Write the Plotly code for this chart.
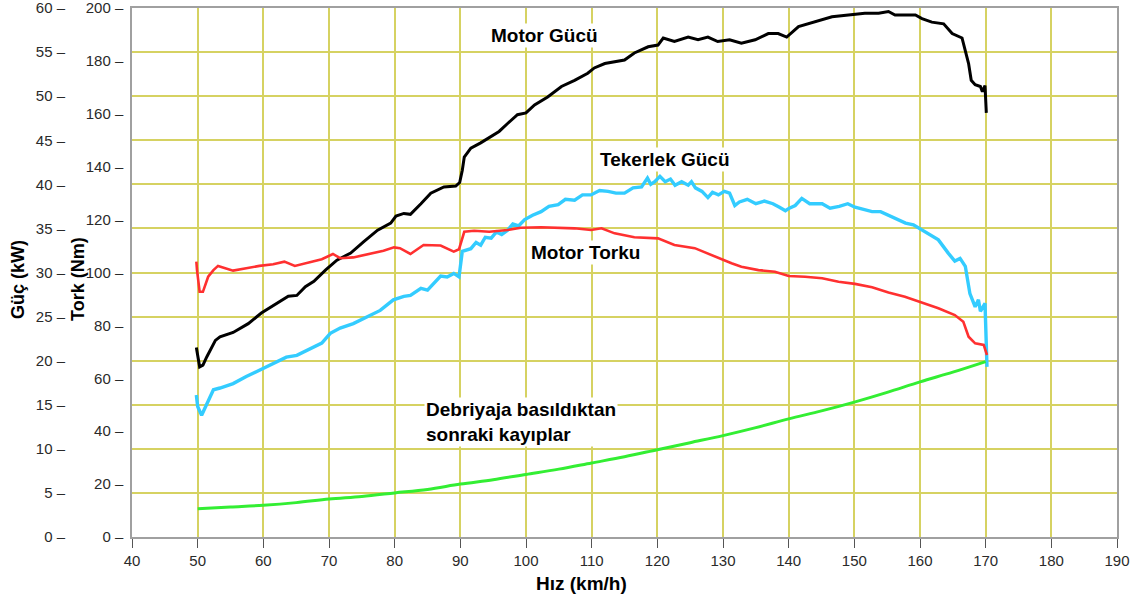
import plotly.graph_objects as go

# ---------------- data ----------------
motor_guc_hiz = [49.8, 50.3, 50.8, 51.4, 52.7, 53.4, 55.4, 57.7, 59.7, 62.0, 63.8, 65.1, 66.4, 67.7,
                 69.5, 71.2, 73.3, 75.3, 77.4, 79.4, 80.2, 81.4, 82.4, 84.0, 85.5, 87.5, 89.3, 89.9,
                 90.3, 90.6, 91.6, 93.1, 94.1, 95.9, 97.2, 98.7, 100.0, 101.3, 103.3, 105.4, 107.4,
                 109.4, 110.4, 112.0, 115.0, 116.5, 118.6, 120.1, 120.9, 122.6, 124.7, 126.2, 127.7,
                 129.2, 131.0, 132.8, 134.9, 136.9, 138.4, 139.7, 141.5, 144.0, 146.6, 149.1, 151.6,
                 153.7, 155.2, 156.2, 159.3, 160.3, 161.8, 163.6, 164.9, 166.4, 166.9, 167.4, 167.8,
                 168.4, 169.2, 169.5, 169.9, 170.0, 170.1]
motor_guc_kw = [21.5, 19.3, 19.5, 20.45, 22.3, 22.7, 23.2, 24.2, 25.4, 26.5, 27.3, 27.4, 28.4, 29.0,
                30.3, 31.4, 32.2, 33.5, 34.8, 35.6, 36.4, 36.7, 36.6, 37.8, 39.0, 39.7, 39.8, 40.2,
                41.6, 43.1, 44.1, 44.7, 45.2, 46.0, 46.9, 47.9, 48.1, 49.0, 49.9, 51.1, 51.8,
                52.6, 53.2, 53.7, 54.1, 54.9, 55.6, 55.8, 56.6, 56.2, 56.7, 56.4, 56.7,
                56.2, 56.4, 56.0, 56.4, 57.1, 57.1, 56.7, 57.9, 58.4, 59.0, 59.2, 59.4,
                59.4, 59.6, 59.2, 59.2, 58.8, 58.4, 58.2, 57.1, 56.6, 55.2, 53.7, 51.8,
                51.3, 51.1, 50.5, 51.2, 49.5, 48.1]

motor_tork_hiz = [49.8, 49.9, 50.3, 50.8, 51.6, 52.4, 53.1, 55.4, 57.4, 59.4, 61.5, 63.2, 64.8, 66.6,
                  68.9, 70.6, 71.7, 73.7, 76.2, 78.3, 79.9, 80.8, 82.4, 84.4, 87.0, 89.0, 89.8, 90.6,
                  92.1, 94.4, 97.2, 99.2, 102.3, 104.9, 107.4, 109.9, 111.5, 113.5, 116.5, 120.1,
                  122.6, 125.7, 128.7, 129.9, 131.3, 132.8, 135.4, 137.9, 140.0, 142.5, 145.1, 147.6,
                  150.1, 152.7, 155.2, 157.7, 160.3, 162.8, 165.3, 166.6, 167.4, 168.4, 169.7, 170.2]
motor_tork_nm = [104.1, 100.9, 92.7, 92.7, 98.4, 100.9, 102.5, 100.7, 101.6, 102.5, 103.1, 104.1, 102.5, 103.5,
                 105.0, 107.0, 105.4, 105.7, 107.0, 108.2, 109.5, 109.2, 107.0, 110.4, 110.2, 107.9, 108.8, 115.4,
                 115.8, 115.4, 116.1, 116.9, 117.1, 116.9, 116.7, 116.1, 116.7, 114.8, 113.3, 112.9,
                 110.4, 109.2, 106.0, 104.7, 103.5, 102.2, 100.9, 100.3, 98.7, 98.4, 97.8, 96.5,
                 95.7, 94.4, 92.4, 90.8, 88.6, 86.5, 83.9, 81.4, 75.7, 73.2, 72.6, 68.8]

tekerlek_hiz = [49.8, 50.0, 50.6, 51.4, 52.4, 53.4, 55.4, 57.4, 59.4, 61.5, 63.5, 65.1, 66.9, 68.9,
                70.2, 71.7, 73.7, 75.8, 77.8, 79.8, 81.4, 82.4, 84.0, 85.0, 86.0, 87.0, 88.0, 89.0,
                89.8, 90.3, 91.6, 92.4, 93.1, 93.8, 94.7, 95.5, 96.3, 97.2, 98.0, 98.9, 99.8, 101.0,
                102.3, 103.5, 104.9, 106.0, 107.4, 108.6, 109.9, 111.2, 112.5, 113.7, 115.0, 116.3,
                117.6, 118.5, 119.0, 119.6, 120.4, 121.2, 122.0, 122.7, 123.7, 124.7, 125.2, 125.8,
                126.8, 127.7, 128.4, 129.3, 130.2, 131.0, 131.8, 132.5, 133.7, 135.0, 136.3, 137.6,
                138.6, 139.5, 140.1, 141.0, 142.0, 143.2, 145.1, 146.3, 147.7, 149.0, 150.1, 151.4,
                152.7, 154.0, 155.2, 156.5, 157.8, 159.0, 160.3, 161.5, 162.8, 164.3, 165.3, 166.1,
                166.9, 167.6, 168.4, 168.9, 169.2, 169.9, 170.1, 170.2]
tekerlek_kw = [16.1, 14.8, 13.8, 15.0, 16.7, 16.9, 17.4, 18.2, 18.9, 19.7, 20.4, 20.6, 21.3, 22.0,
               23.1, 23.7, 24.2, 25.0, 25.7, 26.9, 27.3, 27.4, 28.2, 28.0, 28.8, 29.6, 29.5, 29.9,
               29.5, 32.4, 32.7, 33.4, 33.1, 34.0, 33.9, 34.6, 34.3, 34.8, 35.5, 35.3, 36.0, 36.5,
               36.9, 37.5, 37.7, 38.3, 38.2, 38.8, 38.8, 39.3, 39.2, 39.0, 39.0, 39.6,
               39.7, 40.7, 40.0, 40.3, 40.9, 40.3, 40.6, 39.9, 40.3, 39.9, 40.3, 39.6,
               39.2, 38.5, 39.1, 38.8, 39.2, 39.0, 37.6, 38.0, 38.3, 37.8, 38.1, 37.8,
               37.4, 37.0, 37.3, 37.6, 38.4, 37.8, 37.8, 37.3, 37.5, 37.8, 37.4, 37.1,
               36.9, 36.9, 36.5, 36.1, 35.6, 35.4, 34.8, 34.3, 33.7, 32.2, 31.3, 31.6,
               30.7, 27.6, 26.1, 26.9, 25.6, 26.5, 23.1, 19.3]

kayip_hiz = [50, 55, 60, 65, 70, 75, 80, 85, 90, 95, 100, 105, 110, 115, 120, 125, 130, 135, 140,
             145, 150, 155, 160, 165, 170]
kayip_kw = [3.2, 3.4, 3.6, 3.9, 4.3, 4.6, 5.0, 5.4, 6.0, 6.5, 7.1, 7.7, 8.4, 9.1, 9.9, 10.7, 11.5,
            12.4, 13.4, 14.3, 15.3, 16.4, 17.6, 18.7, 19.9]

guc_ticks = list(range(0, 61, 5))
tork_ticks = list(range(0, 201, 20))
hiz_ticks = list(range(40, 191, 10))
guc_labels = [f"{v} –" for v in guc_ticks]
tork_labels = [f"{v} –" for v in tork_ticks]

# ---------------- figure ----------------
FONT = "Liberation Sans, Arial, sans-serif"
GRID = "#D6D262"
FRAME = "#A0A0A0"
W, H = 1138, 606
ML, MR, MT, MB = 0, 21, 8, 69
PW = W - ML - MR
PH = H - MT - MB
x0 = 132 / PW

fig = go.Figure()
fig.add_trace(go.Scatter(x=motor_tork_hiz, y=motor_tork_nm, mode="lines", yaxis="y2",
                         line=dict(color="#FF3030", width=2.6), hoverinfo="skip"))
fig.add_trace(go.Scatter(x=tekerlek_hiz, y=tekerlek_kw, mode="lines",
                         line=dict(color="#33CCFF", width=3.4), hoverinfo="skip"))
fig.add_trace(go.Scatter(x=motor_guc_hiz, y=motor_guc_kw, mode="lines",
                         line=dict(color="#000000", width=3), hoverinfo="skip"))
fig.add_trace(go.Scatter(x=kayip_hiz, y=kayip_kw, mode="lines", line_shape="spline",
                         line=dict(color="#33EE33", width=3), hoverinfo="skip"))

ann_font = dict(family=FONT, size=19, color="#000000")
title_font = dict(family=FONT, size=18, color="#000000")


def px_x(p):
    return p / PW


def px_y(p):
    return (MT + PH - p) / PH


annotations = [
    dict(text="<b>Motor Gücü</b>", x=102.8, y=56.9, xref="x", yref="y", showarrow=False,
         font=ann_font, bgcolor="white", borderpad=1),
    dict(text="<b>Tekerlek Gücü</b>", x=121.2, y=42.8, xref="x", yref="y", showarrow=False,
         font=ann_font, bgcolor="white", borderpad=1),
    dict(text="<b>Motor Torku</b>", x=109.1, y=32.3, xref="x", yref="y", showarrow=False,
         font=ann_font, bgcolor="white", borderpad=1),
    dict(text="<b>Debriyaja basıldıktan<br>sonraki kayıplar</b>", x=84.4, y=13.0, xref="x", yref="y",
         xanchor="left", yanchor="middle", align="left", showarrow=False, font=ann_font,
         bgcolor="white", borderpad=1),
    dict(text="<b>Güç (kW)</b>", x=px_x(18), y=px_y(280), xref="paper", yref="paper",
         xanchor="center", yanchor="middle", textangle=-90, showarrow=False, font=title_font),
    dict(text="<b>Tork (Nm)</b>", x=px_x(78), y=px_y(279), xref="paper", yref="paper",
         xanchor="center", yanchor="middle", textangle=-90, showarrow=False, font=title_font),
    dict(text="<b>Hız (km/h)</b>", x=px_x(581), y=px_y(583), xref="paper", yref="paper",
         xanchor="center", yanchor="middle", showarrow=False,
         font=dict(family=FONT, size=19, color="#000000")),
]

tick_font = dict(family=FONT, size=15, color="#2A2A2A")

fig.update_layout(
    width=W, height=H,
    margin=dict(l=ML, r=MR, t=MT, b=MB, pad=0, autoexpand=False),
    paper_bgcolor="white", plot_bgcolor="white",
    showlegend=False,
    font=dict(family=FONT, size=15, color="#2A2A2A"),
    annotations=annotations,
    xaxis=dict(domain=[x0, 1], range=[40, 190], tickvals=hiz_ticks, showgrid=True,
               gridcolor=GRID, gridwidth=1.5, zeroline=False, showline=True, mirror=True,
               linecolor=FRAME, linewidth=1.5, ticks="outside", ticklen=9, tickcolor="#555",
               tickwidth=1.3, tickfont=tick_font, automargin=False, ticklabeloverflow="allow"),
    yaxis=dict(range=[0, 60], tickvals=guc_ticks, ticktext=guc_labels, showgrid=True,
               gridcolor=GRID, gridwidth=1.5, zeroline=False, anchor="free",
               position=px_x(68), side="left", showline=False, ticks="",
               ticklabelstandoff=3, tickfont=tick_font, automargin=False,
               ticklabeloverflow="allow"),
    yaxis2=dict(range=[0, 200], tickvals=tork_ticks, ticktext=tork_labels, overlaying="y",
                anchor="x", side="left", showgrid=False, zeroline=False, showline=True,
                mirror=True, linecolor=FRAME, linewidth=1.5, ticks="", ticklabelstandoff=4,
                tickfont=tick_font, automargin=False, ticklabeloverflow="allow"),
)

fig.write_html("out.html")
